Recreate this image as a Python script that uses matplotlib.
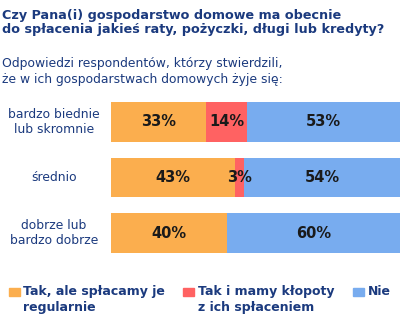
import matplotlib
matplotlib.use("Agg")
import matplotlib.pyplot as plt
from matplotlib.patches import Rectangle

# dane
groups = ["bardzo biednie\nlub skromnie", "średnio", "dobrze lub\nbardzo dobrze"]
tak_reg = [33, 43, 40]
tak_klopot = [14, 3, 0]
nie = [53, 54, 60]
series_names = ["Tak, ale spłacamy je\nregularnie", "Tak i mamy kłopoty\nz ich spłaceniem", "Nie"]
colors = ["#FBAE4E", "#FF6262", "#78ACEF"]
navy = "#1B3A7E"

W, H = 400, 329
fig = plt.figure(figsize=(W / 100, H / 100), dpi=100)
plt.rcParams["font.family"] = ["DejaVu Sans"]

def fx(px):
    return px / W

def fy(py):
    return 1 - py / H

# tytul i podtytul
fig.text(fx(2), fy(15), "Czy Pana(i) gospodarstwo domowe ma obecnie", fontsize=9.2,
         fontweight="bold", color=navy, va="center", ha="left")
fig.text(fx(2), fy(30), "do spłacenia jakieś raty, pożyczki, długi lub kredyty?", fontsize=9.2,
         fontweight="bold", color=navy, va="center", ha="left")
fig.text(fx(2), fy(64), "Odpowiedzi respondentów, którzy stwierdzili,", fontsize=8.9,
         color=navy, va="center", ha="left")
fig.text(fx(2), fy(80), "że w ich gospodarstwach domowych żyje się:", fontsize=8.9,
         color=navy, va="center", ha="left")

# wykres
ax = fig.add_axes([fx(111), fy(253), fx(400) - fx(111), fy(102) - fy(253)])
h = 40 / 56
ypos = list(range(len(groups)))
lefts = [0] * len(groups)
for vals, c in zip([tak_reg, tak_klopot, nie], colors):
    ax.barh(ypos, vals, left=lefts, height=h, color=c, edgecolor="none")
    for y, l, v in zip(ypos, lefts, vals):
        if v > 0:
            ax.text(l + v / 2, y, f"{v}%", ha="center", va="center",
                    fontsize=10.5, fontweight="bold", color="#1a1a1a")
    lefts = [a + b for a, b in zip(lefts, vals)]
ax.set_xlim(0, 100)
ax.set_ylim(len(groups) - 1 + h / 2, -h / 2)
ax.axis("off")

# etykiety grup
for y, g in zip(ypos, groups):
    _, py = ax.transData.transform((0, y))
    fig.text(fx(54), py / H, g, ha="center", va="center", fontsize=8.9,
             color=navy, linespacing=1.25)

# legenda
for sx, tx, name, c in zip([9, 183, 353], [23, 198, 368], series_names, colors):
    fig.patches.append(Rectangle((fx(sx), fy(296)), fx(11), 8 / H, color=c,
                                 transform=fig.transFigure, figure=fig))
    fig.text(fx(tx), fy(285), name, ha="left", va="top", fontsize=9.0,
             fontweight="bold", color=navy, linespacing=1.3)

fig.savefig("out.png", dpi=100)
